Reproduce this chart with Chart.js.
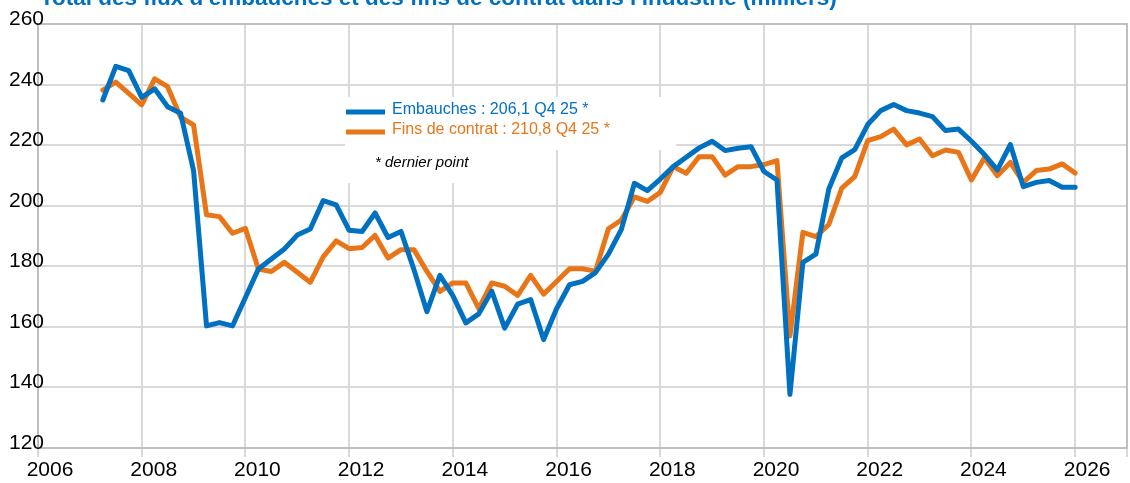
<!DOCTYPE html>
<html lang="fr">
<head>
<meta charset="utf-8">
<script src="https://cdn.jsdelivr.net/npm/chart.js@4.4.1/dist/chart.umd.min.js"></script>
<style>
  html, body { margin: 0; padding: 0; background: #fff; }
  #wrap { width: 1130px; height: 483px; }
</style>
</head>
<body>
<div id="wrap"><canvas id="chart" width="1130" height="483"></canvas></div>
<script>
// Quarterly series, first point = Q1 2007, last = Q4 2025
const firstYear = 2007;
const lastQuarterLabel = 'Q4 25';

const xTickYears = [2006, 2008, 2010, 2012, 2014, 2016, 2018, 2020, 2022, 2024, 2026];
const yTicks = [120, 140, 160, 180, 200, 220, 240, 260];

const embauches = [
    234.9, 246.0, 244.6, 235.8, 238.6, 232.7, 230.5, 211.6,
    160.3, 161.4, 160.3, 169.7, 179.1, 182.4, 185.7, 190.3,
    192.3, 201.7, 200.3, 191.9, 191.5, 197.6, 189.5, 191.5,
    178.9, 165.0, 177.0, 170.3, 161.3, 164.3, 171.8, 159.6,
    167.5, 169.0, 155.8, 166.0, 173.9, 175.0, 177.9, 184.0,
    192.2, 207.4, 205.0, 208.8, 212.9, 216.0, 219.1, 221.3,
    218.2, 219.0, 219.5, 211.3, 208.5, 137.7, 181.3, 184.0,
    205.5, 215.8, 218.5, 226.8, 231.4, 233.4, 231.4, 230.6,
    229.4, 224.8, 225.3, 221.3, 216.9, 211.8, 220.2, 206.3,
    207.7, 208.3, 206.1, 206.1
];

const finsContrat = [
    238.2, 240.8, 237.1, 233.3, 241.9, 239.3, 229.2, 226.7,
    197.0, 196.4, 190.9, 192.5, 179.1, 178.3, 181.3, 178.0,
    174.7, 183.1, 188.4, 185.8, 186.2, 190.2, 182.7, 185.5,
    185.5, 178.3, 171.7, 174.5, 174.5, 166.0, 174.5, 173.4,
    170.4, 177.0, 170.8, 175.0, 179.2, 179.2, 178.4, 192.4,
    195.3, 202.9, 201.4, 204.4, 212.9, 210.7, 216.2, 216.2,
    210.1, 212.9, 212.9, 213.6, 214.9, 157.0, 191.2, 189.8,
    193.8, 205.8, 209.6, 221.5, 222.8, 225.3, 220.1, 222.0,
    216.5, 218.4, 217.6, 208.5, 215.8, 209.9, 214.3, 207.7,
    211.6, 212.1, 213.8, 210.8
];

const BLUE = '#0070c0';
const ORANGE = '#e87619';
const FONT = '"Liberation Sans", Arial, sans-serif';
const TITLE = "Total des flux d'embauches et des fins de contrat dans l'industrie (milliers)";

// each quarter is placed at the end of its quarter
function toPoints(values) {
    return values.map((v, i) => ({ x: firstYear + (i + 1) / 4, y: v }));
}

function fmt(v) {
    return v.toFixed(1).replace('.', ',');
}

// title, legend box, note, y labels and plot frame
const decorPlugin = {
    id: 'decor',
    beforeDatasetsDraw(chart) {
        const ctx = chart.ctx;
        ctx.save();
        ctx.fillStyle = '#fff';
        ctx.fillRect(345, 97, 331, 53);
        ctx.fillRect(340, 150, 200, 33);
        ctx.restore();
    },
    afterDraw(chart) {
        const ctx = chart.ctx;
        const a = chart.chartArea;
        const yScale = chart.scales.y;
        ctx.save();

        // frame
        ctx.strokeStyle = '#bfbfbf';
        ctx.lineWidth = 2;
        ctx.strokeRect(a.left, a.top, a.right - a.left, a.bottom - a.top);

        // y labels sit on top of their gridline, overlapping the axis a bit
        ctx.fillStyle = '#000';
        ctx.font = '21px ' + FONT;
        ctx.textAlign = 'right';
        ctx.textBaseline = 'alphabetic';
        yScale.ticks.forEach(t => {
            ctx.fillText(String(t.value), a.left + 6, yScale.getPixelForValue(t.value) + 1);
        });
        ctx.textAlign = 'left';

        // title (mostly cut off at the top in the original)
        ctx.fillStyle = BLUE;
        ctx.font = 'bold 20px ' + FONT;
        const w = ctx.measureText(TITLE).width;
        const size = 20 * 795 / w;
        ctx.font = 'bold ' + size.toFixed(1) + 'px ' + FONT;
        ctx.fillText(TITLE, 40, 5);

        // legend
        const items = [
            { ds: chart.data.datasets[0], y: 112, base: 114 },
            { ds: chart.data.datasets[1], y: 132, base: 134 }
        ];
        ctx.font = '16px ' + FONT;
        items.forEach(it => {
            const last = it.ds.data[it.ds.data.length - 1].y;
            ctx.strokeStyle = it.ds.borderColor;
            ctx.lineWidth = 5;
            ctx.beginPath();
            ctx.moveTo(346, it.y);
            ctx.lineTo(385, it.y);
            ctx.stroke();
            ctx.fillStyle = it.ds.borderColor;
            ctx.fillText(it.ds.label + ' : ' + fmt(last) + ' ' + lastQuarterLabel + ' *', 392, it.base);
        });

        ctx.fillStyle = '#000';
        ctx.font = 'italic 15px ' + FONT;
        ctx.fillText('* dernier point', 375, 167);
        ctx.restore();
    }
};

const ctx = document.getElementById('chart').getContext('2d');
new Chart(ctx, {
    type: 'line',
    data: {
        datasets: [
            {
                label: 'Embauches',
                data: toPoints(embauches),
                borderColor: BLUE,
                backgroundColor: BLUE,
                borderWidth: 5,
                pointRadius: 0,
                tension: 0,
                borderJoinStyle: 'round',
                borderCapStyle: 'round'
            },
            {
                label: 'Fins de contrat',
                data: toPoints(finsContrat),
                borderColor: ORANGE,
                backgroundColor: ORANGE,
                borderWidth: 5,
                pointRadius: 0,
                tension: 0,
                borderJoinStyle: 'round',
                borderCapStyle: 'round'
            }
        ]
    },
    options: {
        responsive: false,
        animation: false,
        devicePixelRatio: 1,
        layout: { padding: { top: 24, right: 3, left: 0, bottom: 0 } },
        plugins: {
            legend: { display: false },
            tooltip: { enabled: false }
        },
        scales: {
            x: {
                type: 'linear',
                min: 2006,
                max: 2027,
                afterBuildTicks: s => {
                    s.ticks = xTickYears.concat([2027]).map(v => ({ value: v }));
                },
                afterFit: s => { s.height = 35; },
                ticks: {
                    callback: v => xTickYears.includes(v) ? String(v) : '',
                    autoSkip: false,
                    maxRotation: 0,
                    padding: 1,
                    labelOffset: 12,
                    color: '#000',
                    font: { family: FONT, size: 21 }
                },
                grid: { color: '#d9d9d9', lineWidth: 2, tickLength: 9, tickColor: '#d9d9d9' },
                border: { color: '#bfbfbf', width: 2 }
            },
            y: {
                min: 120,
                max: 260,
                afterBuildTicks: s => {
                    s.ticks = yTicks.map(v => ({ value: v }));
                },
                afterFit: s => { s.width = 38; },
                ticks: { display: false },
                grid: { color: '#d9d9d9', lineWidth: 2, drawTicks: false },
                border: { color: '#bfbfbf', width: 2 }
            }
        }
    },
    plugins: [decorPlugin]
});
</script>
</body>
</html>
